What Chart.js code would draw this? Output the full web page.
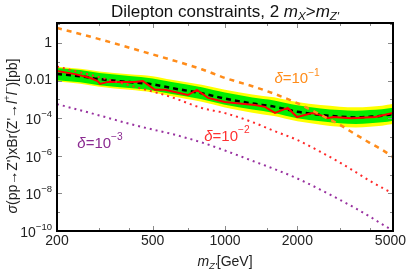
<!DOCTYPE html>
<html>
<head>
<meta charset="utf-8">
<script src="https://cdn.jsdelivr.net/npm/chart.js@4"></script>
<style>
  html, body { margin: 0; padding: 0; background: #fff; }
</style>
</head>
<body>
<canvas id="chart" width="409" height="271"></canvas>
<script>
// expected limit grid (GeV) and sigma x Br in pb
const expMass = [200, 250, 300, 400, 500, 600, 800, 1000, 1300, 1600, 2000, 2500, 3000, 3500, 4000, 4500, 5000];
const expected = [2.2e-2, 1.7e-2, 1.2e-2, 8.3e-3, 6.3e-3, 4.0e-3, 2.1e-3, 1.1e-3, 6.0e-4, 4.1e-4, 2.2e-4, 1.5e-4, 1.2e-4, 1.1e-4, 1.2e-4, 1.35e-4, 1.65e-4];
const greenHi = [4.6e-2, 3.6e-2, 2.5e-2, 1.75e-2, 1.3e-2, 8.4e-3, 4.4e-3, 2.3e-3, 1.26e-3, 8.8e-4, 4.8e-4, 3.3e-4, 2.7e-4, 2.5e-4, 2.7e-4, 3.0e-4, 3.6e-4];
const greenLo = [1.05e-2, 8.1e-3, 5.7e-3, 4.0e-3, 3.0e-3, 1.9e-3, 1.0e-3, 5.2e-4, 2.85e-4, 1.9e-4, 1.0e-4, 6.8e-5, 5.4e-5, 4.9e-5, 5.4e-5, 6.0e-5, 7.4e-5];
const yellowHi = [5.5e-2, 4.25e-2, 3.06e-2, 2.16e-2, 1.7e-2, 1.1e-2, 6.0e-3, 3.25e-3, 1.83e-3, 1.29e-3, 7.15e-4, 4.95e-4, 4.1e-4, 3.75e-4, 4.1e-4, 4.6e-4, 5.6e-4];
const yellowLo = [8.8e-3, 6.8e-3, 4.7e-3, 3.2e-3, 2.33e-3, 1.45e-3, 7.4e-4, 3.7e-4, 1.97e-4, 1.3e-4, 6.8e-5, 4.5e-5, 3.5e-5, 3.2e-5, 3.5e-5, 4.0e-5, 4.9e-5];

// observed limit
const obsMass = [200, 238, 274, 295, 302, 326, 422, 455, 511, 563, 701, 764, 850, 1000, 1177, 1332, 1467, 1614, 1824, 1995, 2305, 2481, 2678, 2811, 3365, 4209, 5000];
const observed = [3.2e-2, 2.2e-2, 1.4e-2, 9.5e-3, 6.6e-3, 8.5e-3, 8.5e-3, 9.5e-3, 3.2e-3, 3.2e-3, 1.7e-3, 3.2e-3, 1.2e-3, 7.2e-4, 5.8e-4, 5.0e-4, 4.0e-4, 1.9e-4, 3.5e-4, 1.15e-4, 1.9e-4, 1.5e-4, 1.0e-4, 1.15e-4, 1.0e-4, 1.15e-4, 1.9e-4];

// theory curves for three delta values
const thMass = [200, 300, 400, 500, 600, 800, 1000, 1300, 1600, 2000, 2500, 3000, 3500, 4000, 4500, 5000];
const delta1 = [6.3, 1.6, 0.56, 0.245, 0.125, 0.040, 0.0138, 5.0e-3, 2.0e-3, 6.3e-4, 1.5e-4, 4.5e-5, 1.35e-5, 4.9e-6, 2.1e-6, 8.7e-7];
const delta2 = [5.6e-2, 1.5e-2, 5.6e-3, 2.6e-3, 1.3e-3, 3.5e-4, 1.85e-4, 6.2e-5, 2.1e-5, 6.9e-6, 1.6e-6, 4.4e-7, 1.35e-7, 4.7e-8, 2.0e-8, 1.0e-8];
const delta3 = [5.6e-4, 1.4e-4, 5.0e-5, 2.5e-5, 1.45e-5, 5.1e-6, 1.9e-6, 5.4e-7, 2.0e-7, 6.2e-8, 1.55e-8, 4.6e-9, 1.6e-9, 5.9e-10, 2.3e-10, 1.05e-10];

// ticks
const xMajor = [200, 500, 1000, 2000, 5000];
const xMinor = [300, 400, 700, 1500, 3000, 4000];
const yDecades = [-10, -9, -8, -7, -6, -5, -4, -3, -2, -1, 0, 1];
const yLabelled = [-10, -8, -6, -4, -2, 0];

const FONT = '"Liberation Sans", Arial, sans-serif';

function pts(xs, ys) {
  return xs.map((m, i) => ({ x: m, y: ys[i] }));
}

// draws text made of pieces: [text, kind] kind: '' | 'i' | '^' | '_i'
function rich(ctx, parts, x, y, size, color, align) {
  const fontOf = (k) => {
    const small = k === '^' || k[0] === '_';
    const s = small ? size * 0.68 : size;
    const it = k.indexOf('i') >= 0 ? 'italic ' : '';
    return it + s + 'px ' + FONT;
  };
  let total = 0;
  const widths = parts.map(([t, k]) => {
    ctx.font = fontOf(k);
    const w = ctx.measureText(t).width;
    total += w;
    return w;
  });
  let cx = align === 'right' ? x - total : align === 'left' ? x : x - total / 2;
  if (align === 'clamp') cx = Math.min(x - total / 2, 406 - total);
  ctx.fillStyle = color;
  ctx.textBaseline = 'middle';
  ctx.textAlign = 'left';
  parts.forEach(([t, k], i) => {
    ctx.font = fontOf(k);
    let dy = 0;
    if (k === '^') dy = -size * 0.42;
    if (k[0] === '_') dy = size * 0.28;
    ctx.fillText(t, cx, y + dy);
    cx += widths[i];
  });
}

const deltaLabels = [
  { m: 1995, v: 0.012, exp: '\u22121', color: '#ff8c1a' },
  { m: 1019, v: 1.0e-5, exp: '\u22122', color: '#ff3030' },
  { m: 302, v: 4.3e-6, exp: '\u22123', color: '#8b2a91' }
];

const decor = {
  id: 'decor',
  afterDatasetsDraw(chart) {
    const { ctx, chartArea: a, scales } = chart;
    const xs = scales.x, ys = scales.y;
    ctx.save();

    // inside ticks
    ctx.strokeStyle = '#8a8a8a';
    ctx.lineWidth = 1;
    const xt = (v, len) => {
      const px = Math.round(xs.getPixelForValue(v)) + 0.5;
      ctx.beginPath();
      ctx.moveTo(px, a.bottom); ctx.lineTo(px, a.bottom - len);
      ctx.moveTo(px, a.top); ctx.lineTo(px, a.top + len);
      ctx.stroke();
    };
    xMajor.forEach((v) => xt(v, 5));
    xMinor.forEach((v) => xt(v, 3));
    yDecades.forEach((d) => {
      const py = Math.round(ys.getPixelForValue(Math.pow(10, d))) + 0.5;
      const len = yLabelled.includes(d) ? 5 : 3;
      ctx.beginPath();
      ctx.moveTo(a.left, py); ctx.lineTo(a.left + len, py);
      ctx.moveTo(a.right, py); ctx.lineTo(a.right - len, py);
      ctx.stroke();
    });

    // frame
    ctx.strokeStyle = '#000';
    ctx.lineWidth = 2;
    ctx.strokeRect(a.left, a.top, a.right - a.left, a.bottom - a.top);

    // tick labels
    xMajor.forEach((v) => {
      rich(ctx, [[String(v), '']], xs.getPixelForValue(v), 241, 14, '#222', 'clamp');
    });
    yLabelled.forEach((d) => {
      const py = ys.getPixelForValue(Math.pow(10, d));
      let parts;
      if (d === 0) parts = [['1', '']];
      else if (d === -2) parts = [['0.01', '']];
      else parts = [['10', ''], ['\u2212' + (-d), '^']];
      rich(ctx, parts, a.left - 5, py + (d < -2 ? 2 : 0), 14, '#222', 'right');
    });

    // titles
    rich(ctx, [['Dilepton constraints, 2 ', ''], ['m', 'i'], ['X', '_i'], ['>', ''], ['m', 'i'], ["Z'", '_i']],
      225, 12, 17, '#111', 'center');
    rich(ctx, [['m', 'i'], ["Z'", '_i'], ['[GeV]', '']], 225, 262, 14, '#222', 'center');

    ctx.save();
    ctx.translate(13, 136);
    ctx.rotate(-Math.PI / 2);
    rich(ctx, [['\u03c3', 'i'], ["(pp\u2192Z')xBr(Z'\u2192", ''], ['l', 'i'], ['+', '^'], ['l', 'i'], ['\u2212', '^'], [')[pb]', '']],
      0, 0, 14, '#222', 'center');
    ctx.restore();

    // delta labels
    deltaLabels.forEach((l) => {
      rich(ctx, [['\u03b4', 'i'], ['=10', ''], [l.exp, '^']],
        xs.getPixelForValue(l.m), ys.getPixelForValue(l.v), 15, l.color, 'center');
    });

    ctx.restore();
  }
};

const band = (data, color, target, order) => ({
  data,
  borderWidth: 0,
  pointRadius: 0,
  backgroundColor: color,
  fill: target === null ? false : { target },
  cubicInterpolationMode: 'monotone',
  order
});

new Chart(document.getElementById('chart'), {
  type: 'line',
  data: {
    datasets: [
      { data: pts(thMass, delta1), borderColor: '#ff8c1a', borderWidth: 2.5, borderDash: [5, 5],
        pointRadius: 0, fill: false, cubicInterpolationMode: 'monotone', order: 0 },
      { data: pts(thMass, delta2), borderColor: '#ff2a2a', borderWidth: 2, borderDash: [2, 4],
        pointRadius: 0, fill: false, cubicInterpolationMode: 'monotone', order: 0 },
      { data: pts(thMass, delta3), borderColor: '#9932a0', borderWidth: 2, borderDash: [2, 4],
        pointRadius: 0, fill: false, cubicInterpolationMode: 'monotone', order: 0 },
      { data: pts(obsMass, observed), borderColor: '#ff0000', borderWidth: 2,
        pointRadius: 0, fill: false, tension: 0, order: 1 },
      { data: pts(expMass, expected), borderColor: '#000', borderWidth: 2.5, borderDash: [5, 4],
        pointRadius: 0, fill: false, cubicInterpolationMode: 'monotone', order: 2 },
      band(pts(expMass, greenHi), '#00ee00', 6, 3),
      band(pts(expMass, greenLo), '#00ee00', null, 3),
      band(pts(expMass, yellowHi), '#ffff00', 8, 4),
      band(pts(expMass, yellowLo), '#ffff00', null, 4)
    ]
  },
  options: {
    responsive: false,
    animation: false,
    events: [],
    layout: { padding: { left: 57, right: 16, top: 23, bottom: 40 } },
    plugins: { legend: { display: false }, tooltip: { enabled: false } },
    scales: {
      x: { type: 'logarithmic', min: 200, max: 5000, display: false, bounds: 'data' },
      y: { type: 'logarithmic', min: 1e-10, max: 11.5, display: false, bounds: 'data' }
    }
  },
  plugins: [decor]
});
</script>
</body>
</html>
